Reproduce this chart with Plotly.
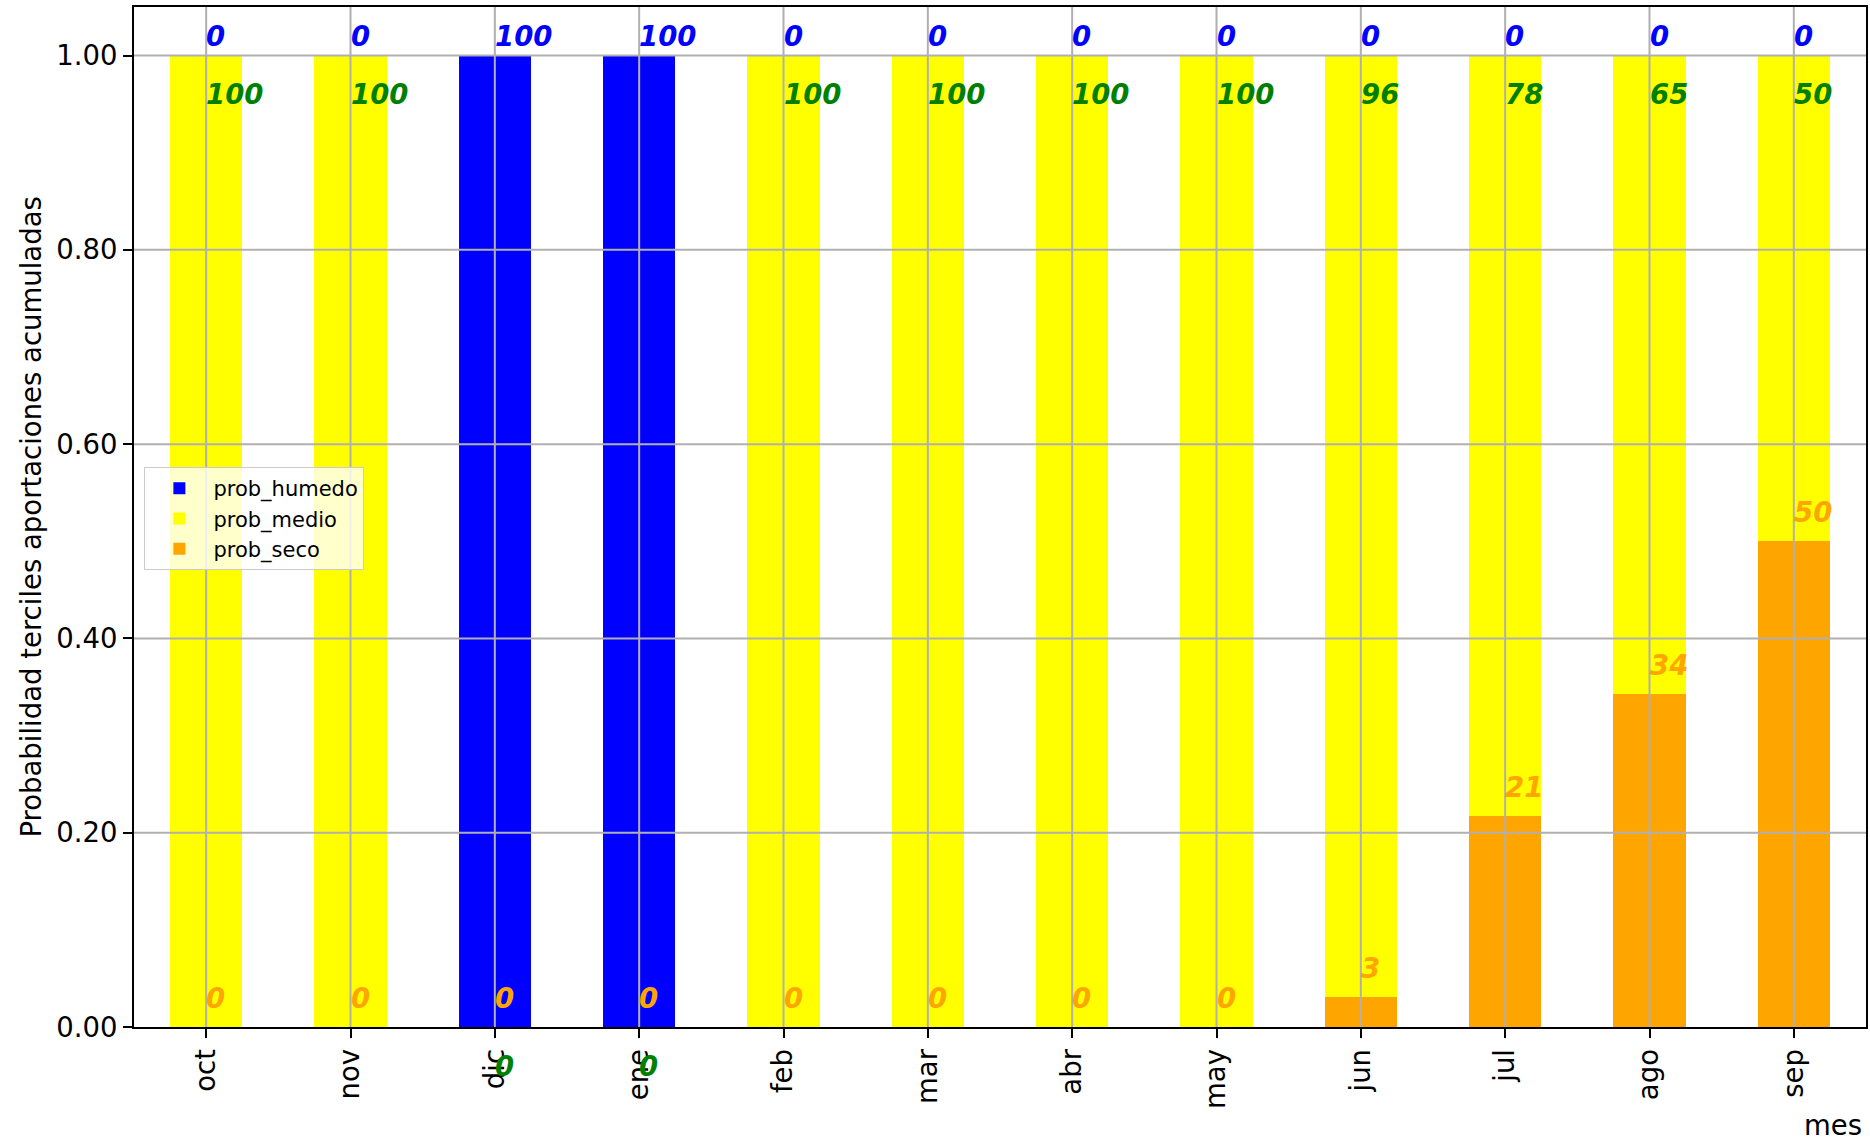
import math
import plotly.graph_objects as go

meses = ["oct", "nov", "dic", "ene", "feb", "mar", "abr", "may", "jun", "jul", "ago", "sep"]
prob_seco = [0, 0, 0, 0, 0, 0, 0, 0, 0.031, 0.217, 0.343, 0.5]
prob_medio = [1, 1, 0, 0, 1, 1, 1, 1, 0.969, 0.783, 0.657, 0.5]
prob_humedo = [0, 0, 1, 1, 0, 0, 0, 0, 0, 0, 0, 0]
y_ticks = [0, 0.2, 0.4, 0.6, 0.8, 1.0]

FONT = "DejaVu Sans"
TICK_SIZE = 27.5
YMAX = 1.05

fig = go.Figure()
fig.add_trace(go.Bar(x=meses, y=prob_seco, name="prob_seco", marker=dict(color="#ffa500", line=dict(width=0)), width=0.5))
fig.add_trace(go.Bar(x=meses, y=prob_medio, name="prob_medio", marker=dict(color="#ffff00", line=dict(width=0)), width=0.5))
fig.add_trace(go.Bar(x=meses, y=prob_humedo, name="prob_humedo", marker=dict(color="#0000ff", line=dict(width=0)), width=0.5))

def pct(v):
    return str(int(math.floor(v * 100 + 1e-9)))

annotations = []
lab_font = lambda c: dict(family=FONT, size=27.5, color=c, weight="bold", style="italic")

def label(i, yval, text, color):
    # yref paper so labels below the axis (e.g. -0.04) are still drawn
    return dict(x=i, y=yval / YMAX, xref="x", yref="paper", text=text, showarrow=False,
                xanchor="left", yanchor="middle", font=lab_font(color), xshift=-2)

for i, m in enumerate(meses):
    s = prob_seco[i]
    md = prob_medio[i]
    h = prob_humedo[i]
    annotations.append(label(i, s + 0.03, pct(s), "#ffa500"))
    annotations.append(label(i, s + md - 0.04, pct(md), "#008000"))
    annotations.append(label(i, s + md + h + 0.02, pct(h), "#0000ff"))

annotations.append(dict(x=1, y=-0.096, xref="paper", yref="paper", text="mes", showarrow=False,
                        xanchor="right", yanchor="middle", xshift=-3, borderpad=0,
                        font=dict(family=FONT, size=TICK_SIZE, color="black")))
annotations.append(dict(x=-0.0597, y=0.5, xref="paper", yref="paper", text="Probabilidad terciles aportaciones acumuladas",
                        showarrow=False, textangle=-90, xanchor="center", yanchor="middle",
                        font=dict(family=FONT, size=TICK_SIZE, color="black")))

shapes = []
for t in y_ticks[1:]:
    shapes.append(dict(type="line", xref="paper", yref="y", x0=0, x1=1, y0=t, y1=t,
                       line=dict(color="#b0b0b0", width=2), layer="above"))
for m in meses:
    shapes.append(dict(type="line", xref="x", yref="paper", x0=m, x1=m, y0=0, y1=1,
                       line=dict(color="#b0b0b0", width=2), layer="above"))

fig.update_layout(
    width=1870, height=1141,
    margin=dict(l=134, r=2, t=7, b=114),
    barmode="stack",
    bargap=0,
    plot_bgcolor="white",
    paper_bgcolor="white",
    font=dict(family=FONT, size=TICK_SIZE, color="black"),
    annotations=annotations,
    shapes=shapes,
    legend=dict(x=0.006, y=0.549, xanchor="left", yanchor="top", traceorder="reversed",
                bgcolor="rgba(255,255,255,0.8)", bordercolor="#cccccc", borderwidth=1,
                itemwidth=58,
                font=dict(family=FONT, size=21, color="black"), tracegroupgap=0),
    xaxis=dict(type="category", range=[-0.5, 11.5], tickangle=-90, showgrid=False,
               showline=True, linecolor="black", linewidth=2, mirror=True,
               ticks="outside", ticklen=9, tickwidth=2, tickcolor="black",
               tickfont=dict(family=FONT, size=TICK_SIZE, color="black")),
    yaxis=dict(range=[0, YMAX], tickvals=y_ticks, tickformat=".2f", showgrid=False, zeroline=False,
               showline=True, linecolor="black", linewidth=2, mirror=True,
               ticks="outside", ticklen=9, tickwidth=2, tickcolor="black",
               tickfont=dict(family=FONT, size=TICK_SIZE, color="black")),
)

fig.write_html("out.html", config={"displayModeBar": False},
               post_script="document.body.style.margin='0';document.body.style.overflow='hidden';")
